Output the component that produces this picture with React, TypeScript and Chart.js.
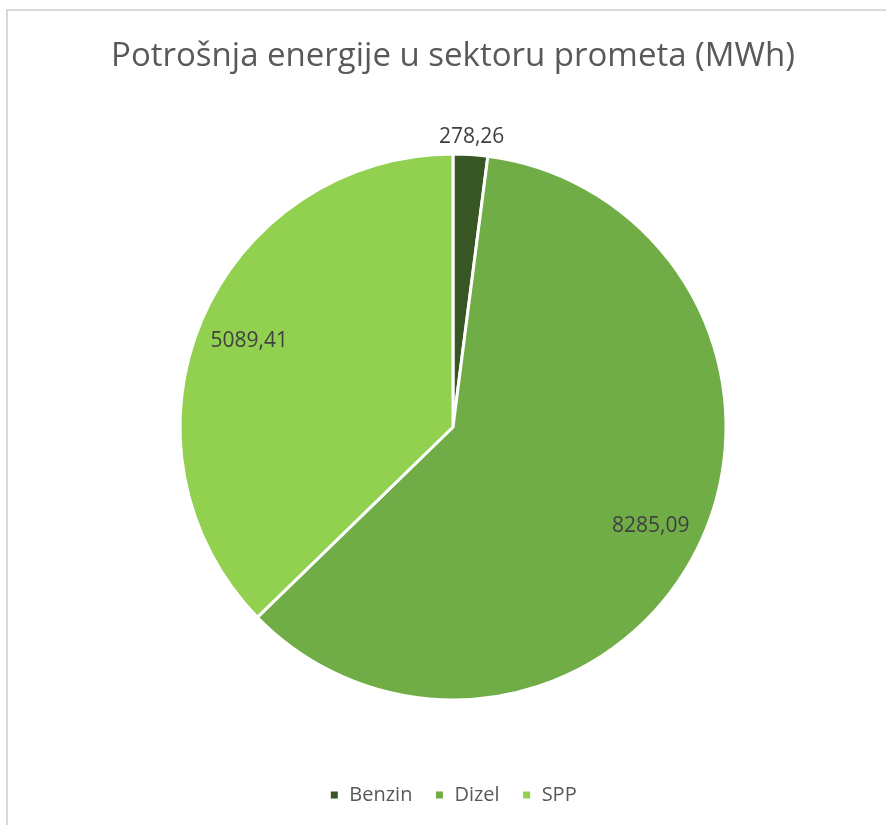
import React, { useEffect, useRef } from 'react';
import { Chart, registerables } from 'chart.js';

Chart.register(...registerables);

const chartTitle = 'Potrošnja energije u sektoru prometa (MWh)';
const categories = ['Benzin', 'Dizel', 'SPP'];
const values = [278.26, 8285.09, 5089.41];
const colors = ['#375623', '#70ad47', '#92d050'];

const fmt = (v: number) => v.toFixed(2).replace('.', ',');

const sliceLabels = {
  id: 'sliceLabels',
  afterDatasetsDraw(chart: any) {
    const ctx = chart.ctx;
    const meta = chart.getDatasetMeta(0);
    const data = chart.data.datasets[0].data as number[];
    const total = data.reduce((a, b) => a + b, 0);
    ctx.save();
    ctx.font = '21px "Open Sans"';
    ctx.fillStyle = '#404040';
    ctx.textAlign = 'center';
    ctx.textBaseline = 'middle';
    meta.data.forEach((arc: any, i: number) => {
      const p = arc.getProps(['x', 'y', 'startAngle', 'endAngle', 'outerRadius'], true);
      const mid = (p.startAngle + p.endAngle) / 2;
      const frac = data[i] / total;
      const r = frac < 0.05 ? p.outerRadius + 18 : p.outerRadius * 0.81;
      ctx.fillText(fmt(data[i]), p.x + Math.cos(mid) * r, p.y + Math.sin(mid) * r);
    });
    ctx.restore();
  },
};

export default function App() {
  const ref = useRef<HTMLCanvasElement>(null);
  useEffect(() => {
    if (!ref.current) return;
    const chart = new Chart(ref.current, {
      type: 'pie',
      data: {
        labels: categories,
        datasets: [
          {
            data: values,
            backgroundColor: colors,
            borderColor: '#ffffff',
            borderWidth: 3,
          },
        ],
      },
      options: {
        responsive: false,
        animation: false,
        radius: 273,
        layout: { padding: { left: 20, right: 0, top: 0, bottom: 10 } },
        plugins: {
          title: {
            display: true,
            text: chartTitle,
            color: '#595959',
            font: { family: '"Open Sans"', size: 33, weight: 'normal' as any },
            padding: { top: 37.2, bottom: 14.2 },
          },
          legend: {
            position: 'bottom',
            labels: {
              color: '#595959',
              font: { family: '"Open Sans"', size: 20 },
              boxWidth: 10,
              boxHeight: 10,
              padding: 22,
            },
          },
          tooltip: { enabled: false },
        },
      } as any,
      plugins: [sliceLabels],
    });
    return () => chart.destroy();
  }, []);
  return (
    <div
      style={{
        position: 'absolute',
        left: 0,
        top: 0,
        width: 886,
        height: 825,
        overflow: 'hidden',
        background: '#ffffff',
      }}
    >
      <div
        style={{
          position: 'absolute',
          left: 6,
          top: 9,
          width: 1000,
          height: 1000,
          border: '2px solid #d9d9d9',
          boxSizing: 'border-box',
        }}
      />
      <canvas
        ref={ref}
        width={886}
        height={825}
        style={{ position: 'absolute', left: 0, top: 0, display: 'block' }}
      />
    </div>
  );
}
